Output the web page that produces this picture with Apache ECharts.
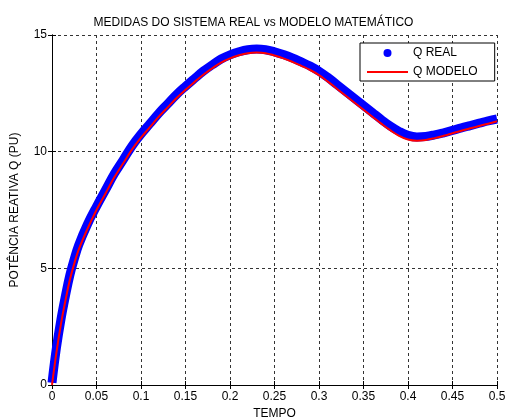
<!DOCTYPE html>
<html>
<head>
<meta charset="utf-8">
<script src="https://cdn.jsdelivr.net/npm/echarts@6/dist/echarts.min.js"></script>
<style>
  html, body { margin: 0; padding: 0; background: #fff; }
  #chart { width: 507px; height: 419px; }
</style>
</head>
<body>
<div id="chart"></div>
<script>
// tempo (s)
var tempo = [0, 0.005, 0.01, 0.015, 0.02, 0.025, 0.03, 0.04, 0.05, 0.06, 0.07, 0.08, 0.09,
    0.1, 0.11, 0.12, 0.13, 0.14, 0.15, 0.16, 0.17, 0.18, 0.19, 0.2, 0.21, 0.22, 0.23, 0.24,
    0.25, 0.26, 0.27, 0.28, 0.29, 0.3, 0.31, 0.32, 0.33, 0.34, 0.35, 0.36, 0.37, 0.38, 0.39,
    0.4, 0.41, 0.42, 0.43, 0.44, 0.45, 0.46, 0.47, 0.48, 0.49, 0.5];
// Q modelo (PU)
var qModelo = [0, 1.4, 2.6, 3.6, 4.5, 5.2, 5.8, 6.7, 7.5, 8.2, 8.9, 9.5, 10.1,
    10.6, 11.05, 11.5, 11.9, 12.3, 12.65, 12.98, 13.3, 13.57, 13.82, 14.0, 14.13, 14.22, 14.25, 14.22,
    14.12, 14.0, 13.85, 13.68, 13.5, 13.28, 13.0, 12.7, 12.4, 12.1, 11.8, 11.5, 11.2, 10.92, 10.68,
    10.52, 10.47, 10.5, 10.58, 10.68, 10.79, 10.9, 11.0, 11.1, 11.2, 11.3];
// Q real (PU) - medidas
var qReal = [0.1, 1.6, 2.8, 3.8, 4.7, 5.4, 6.0, 6.9, 7.65, 8.35, 9.05, 9.65, 10.25,
    10.75, 11.2, 11.65, 12.05, 12.45, 12.8, 13.13, 13.45, 13.72, 13.97, 14.15, 14.28, 14.37, 14.4, 14.37,
    14.28, 14.16, 14.02, 13.85, 13.67, 13.45, 13.18, 12.88, 12.58, 12.28, 11.98, 11.68, 11.38, 11.1, 10.87,
    10.7, 10.63, 10.65, 10.72, 10.81, 10.91, 11.02, 11.12, 11.22, 11.32, 11.4];

var xTicks = 0.05;
var yTicks = 5;

var dom = document.getElementById("chart");
var myChart = echarts.init(dom);

function pares(xs, ys) {
    var out = [];
    for (var i = 0; i < xs.length; i++) out.push([xs[i], ys[i]]);
    return out;
}

var fonte = 'Arial, "Liberation Sans", sans-serif';
var gridLinha = { show: true, lineStyle: { color: '#333', type: [3, 3], width: 1 } };

option = {
    animation: false,
    backgroundColor: '#fff',
    title: {
        text: 'MEDIDAS DO SISTEMA REAL vs MODELO MATEMÁTICO',
        left: 'center',
        top: 12,
        textStyle: { fontSize: 12, fontWeight: 'normal', color: '#000', fontFamily: fonte }
    },
    grid: { left: 52, right: 10, top: 35, bottom: 34, outerBoundsMode: 'none', containLabel: false },
    legend: {
        orient: 'vertical',
        left: 360,
        top: 43,
        padding: [4, 17, 3, 7],
        itemGap: 7,
        itemWidth: 41,
        itemHeight: 8,
        backgroundColor: '#fff',
        borderColor: '#000',
        borderWidth: 1,
        borderRadius: 0,
        textStyle: { fontSize: 12, color: '#000', fontFamily: fonte },
        data: [
            { name: 'Q REAL', icon: 'circle' },
            { name: 'Q MODELO', icon: 'path://M0,0L41,0L41,2L0,2Z' }
        ]
    },
    xAxis: [{
        type: 'value',
        min: 0, max: 0.5, interval: xTicks,
        name: 'TEMPO',
        nameLocation: 'middle',
        nameGap: 21,
        nameTextStyle: { fontSize: 12, color: '#000', fontFamily: fonte },
        axisLine: { lineStyle: { color: '#000' } },
        axisTick: { inside: true, length: 4, lineStyle: { color: '#000' } },
        axisLabel: { fontSize: 12, color: '#000', fontFamily: fonte, margin: 6 },
        splitLine: gridLinha
    }, {
        type: 'value', position: 'top',
        min: 0, max: 0.5, interval: xTicks,
        axisLine: { lineStyle: { color: '#000' } },
        axisTick: { inside: true, length: 4, lineStyle: { color: '#000' } },
        axisLabel: { show: false },
        splitLine: { show: false }
    }],
    yAxis: [{
        type: 'value',
        min: 0, max: 15, interval: yTicks,
        name: 'POTÊNCIA REATIVA Q (PU)',
        nameLocation: 'middle',
        nameGap: 31,
        nameTextStyle: { fontSize: 12, color: '#000', fontFamily: fonte },
        axisLine: { show: true, lineStyle: { color: '#000' } },
        axisTick: { show: true, inside: true, length: 4, lineStyle: { color: '#000' } },
        axisLabel: { fontSize: 12, color: '#000', fontFamily: fonte, margin: 5 },
        splitLine: gridLinha
    }, {
        type: 'value', position: 'right',
        min: 0, max: 15, interval: yTicks,
        axisLine: { show: true, lineStyle: { color: '#000' } },
        axisTick: { show: true, inside: true, length: 4, lineStyle: { color: '#000' } },
        axisLabel: { show: false },
        splitLine: { show: false }
    }],
    series: [
        {
            name: 'Q REAL',
            type: 'line',
            smooth: 0.4,
            showSymbol: false,
            symbol: 'circle',
            color: '#0000ff',
            lineStyle: { color: '#0000ff', width: 9 },
            data: pares(tempo, qReal),
            z: 2
        },
        {
            name: 'Q MODELO',
            type: 'line',
            smooth: 0.4,
            showSymbol: false,
            symbol: 'none',
            color: '#ff0000',
            lineStyle: { color: '#ff0000', width: 2 },
            data: pares(tempo, qModelo),
            z: 3
        }
    ]
};

myChart.setOption(option, true);
</script>
</body>
</html>
